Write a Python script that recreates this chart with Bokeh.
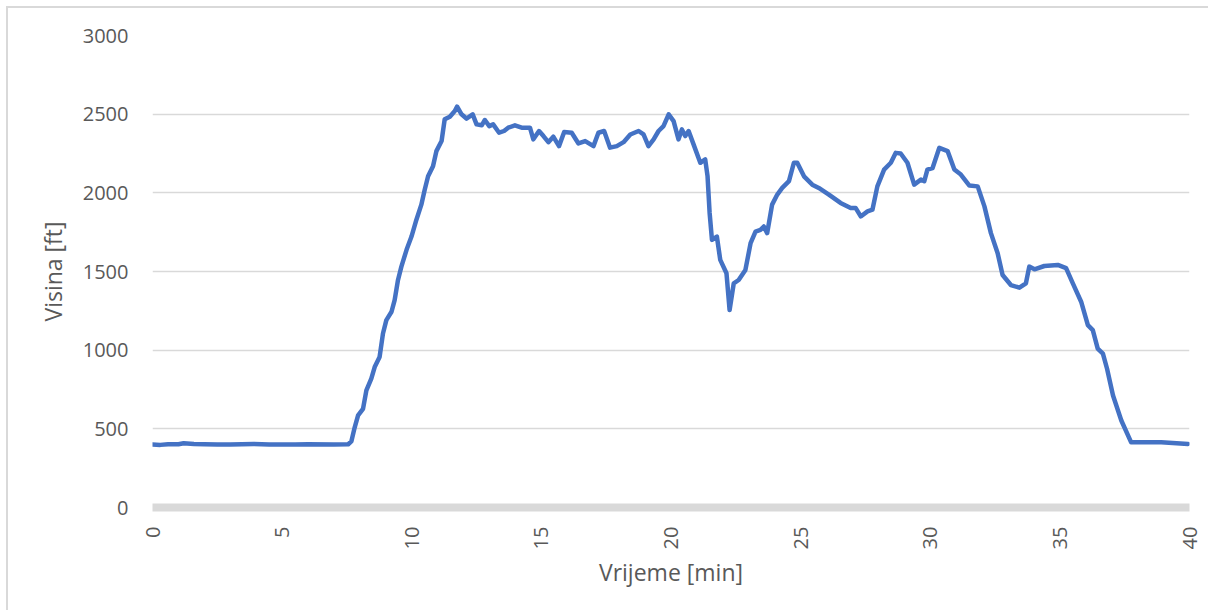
import math
from bokeh.plotting import figure
from bokeh.models import Range1d, FixedTicker
from bokeh.embed import file_html
from bokeh.resources import INLINE

# Data
time_min = [0.0, 0.3, 0.6, 1.0, 1.2, 1.6, 2.0, 2.5, 3.0, 3.9, 4.5, 5.5, 6.0, 7.0, 7.55,
            7.67, 7.8, 7.93, 8.12, 8.25, 8.44, 8.57, 8.76, 8.89, 9.02, 9.22, 9.34, 9.47,
            9.60, 9.80, 9.99, 10.18, 10.37, 10.50, 10.63, 10.82, 10.95, 11.15, 11.27,
            11.47, 11.66, 11.75, 11.92, 12.11, 12.35, 12.5, 12.7, 12.82, 12.99, 13.14,
            13.37, 13.56, 13.72, 13.98, 14.24, 14.56, 14.69, 14.91, 15.08, 15.27, 15.46,
            15.68, 15.88, 16.17, 16.43, 16.69, 17.01, 17.20, 17.42, 17.65, 17.91, 18.17,
            18.43, 18.75, 18.94, 19.13, 19.33, 19.52, 19.71, 19.91, 20.10, 20.29, 20.42,
            20.55, 20.68, 20.87, 21.13, 21.32, 21.41, 21.49, 21.58, 21.77, 21.90, 22.14,
            22.26, 22.42, 22.61, 22.87, 23.07, 23.26, 23.45, 23.58, 23.71, 23.90, 24.10,
            24.29, 24.55, 24.74, 24.87, 25.13, 25.45, 25.70, 26.09, 26.54, 26.93, 27.12,
            27.32, 27.58, 27.77, 27.96, 28.22, 28.48, 28.67, 28.86, 29.12, 29.38, 29.64,
            29.77, 29.89, 30.09, 30.35, 30.67, 30.93, 31.18, 31.51, 31.83, 32.09, 32.34,
            32.60, 32.79, 33.11, 33.44, 33.69, 33.82, 34.02, 34.40, 34.92, 35.24, 35.50,
            35.82, 36.08, 36.27, 36.46, 36.66, 36.82, 37.05, 37.37, 37.75, 38.91, 39.5,
            39.94]
altitude_ft = [400, 398, 402, 402, 408, 404, 402, 400, 400, 404, 400, 400, 402, 400, 402,
               420, 510, 585, 627, 744, 819, 893, 957, 1106, 1191, 1244, 1318, 1446,
               1531, 1638, 1722, 1829, 1925, 2020, 2105, 2169, 2265, 2329, 2467,
               2484, 2520, 2548, 2499, 2472, 2499, 2435, 2429, 2463, 2424, 2435,
               2382, 2393, 2414, 2429, 2414, 2414, 2340, 2393, 2361, 2322, 2357,
               2297, 2387, 2382, 2314, 2329, 2297, 2382, 2393, 2287, 2297, 2322,
               2371, 2393, 2371, 2297, 2340, 2393, 2424, 2499, 2456, 2340, 2403,
               2361, 2393, 2308, 2191, 2212, 2105, 1872, 1701, 1722, 1574, 1489,
               1255, 1425, 1446, 1510, 1680, 1754, 1765, 1786, 1744, 1925, 1989,
               2031, 2074, 2191, 2191, 2105, 2052, 2031, 1989, 1936, 1904, 1904,
               1850, 1882, 1893, 2041, 2148, 2191, 2254, 2250, 2191, 2052, 2084,
               2074, 2148, 2158, 2286, 2265, 2148, 2116, 2046, 2041, 1914, 1744,
               1616, 1478, 1414, 1397, 1425, 1531, 1514, 1535, 1542, 1521, 1425,
               1308, 1159, 1127, 1010, 978, 882, 712, 553, 414, 414, 408,
               404]
x_ticks = [0, 5, 10, 15, 20, 25, 30, 35, 40]
y_ticks = [0, 500, 1000, 1500, 2000, 2500, 3000]

FONT = "Open Sans"
TXT = "#595959"
GRID = "#d9d9d9"

p = figure(width=1200, height=602, output_backend="svg", toolbar_location=None,
           x_range=Range1d(0, 40), y_range=Range1d(0, 3000),
           min_border_left=144, min_border_right=21, min_border_top=27,
           min_border_bottom=105)
p.styles = {"border-left": "2px solid #d9d9d9", "border-top": "2px solid #d9d9d9",
            "box-sizing": "content-box", "margin-left": "6px", "margin-top": "6px"}
p.outline_line_color = None
p.background_fill_color = "white"
p.border_fill_color = "white"

p.line(time_min, altitude_ft, line_color="#4472C4", line_width=4.5,
       line_join="round", line_cap="round")

# x axis
xa = p.xaxis[0]
xa.ticker = FixedTicker(ticks=x_ticks)
xa.major_label_orientation = math.pi / 2
xa.axis_line_color = GRID
xa.axis_line_width = 8
xa.major_tick_line_color = None
xa.minor_tick_line_color = None
xa.major_label_text_font = FONT
xa.major_label_text_font_size = "20px"
xa.major_label_text_color = TXT
xa.major_label_standoff = 13
xa.axis_label = "Vrijeme [min]"
xa.axis_label_text_font = FONT
xa.axis_label_text_font_size = "23px"
xa.axis_label_text_font_style = "normal"
xa.axis_label_text_color = TXT
xa.axis_label_standoff = 4

# y axis
ya = p.yaxis[0]
ya.ticker = FixedTicker(ticks=y_ticks)
ya.axis_line_color = None
ya.major_tick_line_color = None
ya.minor_tick_line_color = None
ya.major_label_text_font = FONT
ya.major_label_text_font_size = "20px"
ya.major_label_text_color = TXT
ya.major_label_standoff = 18
ya.axis_label = "Visina [ft]"
ya.axis_label_text_font = FONT
ya.axis_label_text_font_size = "23px"
ya.axis_label_text_font_style = "normal"
ya.axis_label_text_color = TXT
ya.axis_label_standoff = 11

p.xgrid.grid_line_color = None
p.ygrid.grid_line_color = GRID
p.ygrid.grid_line_width = 1.5
p.ygrid.ticker = FixedTicker(ticks=y_ticks)

open("out.html", "w").write(file_html(p, INLINE))
